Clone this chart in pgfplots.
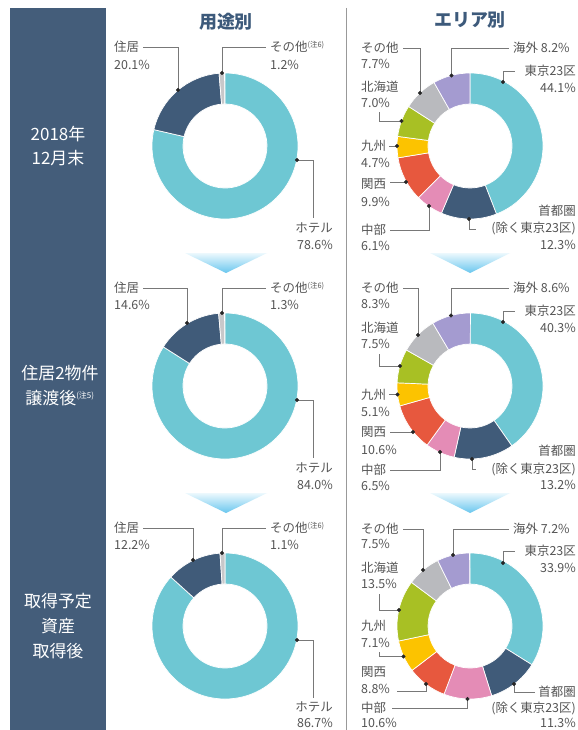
\documentclass[border=0pt]{standalone}
\usepackage{pgfplots}
\usepackage{pgfplotstable}
\pgfplotsset{compat=1.18}
\usepackage{fontspec}
\setmainfont{Noto Sans CJK JP}

\definecolor{cTeal}{RGB}{110,199,211}
\definecolor{cNavy}{RGB}{64,91,121}
\definecolor{cLGray}{RGB}{200,200,202}
\definecolor{cPink}{RGB}{228,140,182}
\definecolor{cRed}{RGB}{231,88,62}
\definecolor{cYellow}{RGB}{252,195,0}
\definecolor{cGreen}{RGB}{168,192,36}
\definecolor{cGray}{RGB}{185,186,190}
\definecolor{cLav}{RGB}{164,155,208}
\definecolor{cPanel}{RGB}{68,93,122}
\definecolor{cHead}{RGB}{61,90,123}
\definecolor{cText}{RGB}{85,85,85}
\definecolor{cLine}{RGB}{120,120,120}
\definecolor{cChevTop}{RGB}{236,248,253}
\definecolor{cChevBot}{RGB}{105,198,238}

\tikzset{
  lbl/.style={font=\fontsize{12.5}{15}\selectfont, text=cText, inner sep=0pt},
  rowlbl/.style={font=\fontsize{17}{25}\selectfont, text=white, align=center, inner sep=0pt},
  head/.style={font=\fontsize{18}{20}\selectfont\bfseries, text=cHead, inner sep=0pt},
}
\newcommand\noteS[1]{\textsuperscript{\fontsize{7.5}{7.5}\selectfont #1}}

% use (by purpose)
\pgfplotstableread{
v c
78.6 cTeal
20.1 cNavy
1.2 cLGray
}\tUseA
\pgfplotstableread{
v c
84.0 cTeal
14.6 cNavy
1.3 cLGray
}\tUseB
\pgfplotstableread{
v c
86.7 cTeal
12.2 cNavy
1.1 cLGray
}\tUseC
% area
\pgfplotstableread{
v c
44.1 cTeal
12.3 cNavy
6.1 cPink
9.9 cRed
4.7 cYellow
7.0 cGreen
7.7 cGray
8.2 cLav
}\tAreaA
\pgfplotstableread{
v c
40.3 cTeal
13.2 cNavy
6.5 cPink
10.6 cRed
5.1 cYellow
7.5 cGreen
8.3 cGray
8.6 cLav
}\tAreaB
\pgfplotstableread{
v c
33.9 cTeal
11.3 cNavy
10.6 cPink
8.8 cRed
7.1 cYellow
13.5 cGreen
7.5 cGray
7.2 cLav
}\tAreaC

\def\Rout{73}
\def\Rin{42}
\newcommand\BuildDonut[4]{%
  \gdef\DonutCmds{}%
  \gdef\DonutAng{90}%
  \pgfplotstablegetrowsof{#2}%
  \pgfmathtruncatemacro\DonutLast{\pgfplotsretval-1}%
  \foreach \i in {0,...,\DonutLast}{%
    \pgfplotstablegetelem{\i}{v}\of{#2}\let\DVal\pgfplotsretval
    \pgfplotstablegetelem{\i}{c}\of{#2}\let\DCol\pgfplotsretval
    \pgfmathsetmacro\DA{\DonutAng}%
    \pgfmathsetmacro\DB{\DonutAng-3.6*\DVal}%
    \pgfmathsetmacro\XA{#3+\Rout*cos(\DA)}%
    \pgfmathsetmacro\YA{#4-\Rout*sin(\DA)}%
    \pgfmathsetmacro\XB{#3+\Rin*cos(\DB)}%
    \pgfmathsetmacro\YB{#4-\Rin*sin(\DB)}%
    \xdef\DonutCmds{\unexpanded\expandafter{\DonutCmds}%
      \noexpand\filldraw[fill=\DCol, draw=white, line width=0.7pt]
      (axis cs:\XA,\YA) arc[start angle=\DA, end angle=\DB, radius=\Rout bp]
      -- (axis cs:\XB,\YB) arc[start angle=\DB, end angle=\DA, radius=\Rin bp] -- cycle;}%
    \xdef\DonutAng{\DB}%
  }%
  \global\expandafter\let\csname #1\endcsname\DonutCmds
}

\begin{document}
\begin{tikzpicture}
\BuildDonut{DUA}{\tUseA}{225}{146}
\BuildDonut{DUB}{\tUseB}{225}{386}
\BuildDonut{DUC}{\tUseC}{225}{626}
\BuildDonut{DAA}{\tAreaA}{470}{146}
\BuildDonut{DAB}{\tAreaB}{470}{386}
\BuildDonut{DAC}{\tAreaC}{470}{626}
\begin{axis}[
  scale only axis, width=577bp, height=730bp,
  xmin=0, xmax=577, ymin=0, ymax=730, y dir=reverse,
  hide axis, clip=false,
  leader/.style={draw=cLine, line width=0.6pt, mark=*, mark indices={1},
    mark size=1.7pt, mark options={fill=black!85, draw=black!85, solid}},
]
\fill[white] (axis cs:0,0) rectangle (axis cs:577,730);
% left panel
\fill[cPanel] (axis cs:10,8) rectangle (axis cs:106,735);
\node[rowlbl] at (axis cs:58,146) {2018年\\12月末};
\node[rowlbl] at (axis cs:60,386) {住居2物件\\譲渡後\textsuperscript{\fontsize{8}{8}\selectfont(注5)}};
\node[rowlbl] at (axis cs:58,626) {取得予定\\資産\\取得後};
% divider
\draw[draw=black!40, line width=0.8pt] (axis cs:346,8) -- (axis cs:346,735);
% headers
\node[head] at (axis cs:226,22) {用途別};
\node[head] at (axis cs:470,20) {エリア別};
% chevrons
\shade[top color=cChevTop, bottom color=cChevBot] (axis cs:185,253) -- (axis cs:267,253) -- (axis cs:226,273) -- cycle;
\shade[top color=cChevTop, bottom color=cChevBot] (axis cs:430,253) -- (axis cs:510,253) -- (axis cs:470,273) -- cycle;
\shade[top color=cChevTop, bottom color=cChevBot] (axis cs:185,493) -- (axis cs:267,493) -- (axis cs:226,513) -- cycle;
\shade[top color=cChevTop, bottom color=cChevBot] (axis cs:430,493) -- (axis cs:510,493) -- (axis cs:470,513) -- cycle;
% donuts
\DUA \DUB \DUC \DAA \DAB \DAC
% ---- left row 1
\addplot[leader] coordinates {(178,90) (178,47) (143,47)};
\node[lbl,anchor=west] at (axis cs:114,47) {住居};
\node[lbl,anchor=west] at (axis cs:114,65) {20.1\%};
\addplot[leader] coordinates {(222,73) (222,47) (266,47)};
\node[lbl,anchor=west] at (axis cs:270,47) {その他\noteS{(注6)}};
\node[lbl,anchor=west] at (axis cs:270,65) {1.2\%};
\addplot[leader] coordinates {(297,160) (313,160) (313,218)};
\node[lbl,anchor=east] at (axis cs:333,228) {ホテル};
\node[lbl,anchor=east] at (axis cs:333,245) {78.6\%};
% ---- left row 2
\addplot[leader] coordinates {(187,323) (187,288) (143,288)};
\node[lbl,anchor=west] at (axis cs:114,288) {住居};
\node[lbl,anchor=west] at (axis cs:114,305) {14.6\%};
\addplot[leader] coordinates {(222,313) (222,288) (266,288)};
\node[lbl,anchor=west] at (axis cs:270,288) {その他\noteS{(注6)}};
\node[lbl,anchor=west] at (axis cs:270,305) {1.3\%};
\addplot[leader] coordinates {(297,400) (313,400) (313,458)};
\node[lbl,anchor=east] at (axis cs:333,468) {ホテル};
\node[lbl,anchor=east] at (axis cs:333,485) {84.0\%};
% ---- left row 3
\addplot[leader] coordinates {(193,560) (193,528) (143,528)};
\node[lbl,anchor=west] at (axis cs:114,528) {住居};
\node[lbl,anchor=west] at (axis cs:114,545) {12.2\%};
\addplot[leader] coordinates {(222,553) (222,528) (266,528)};
\node[lbl,anchor=west] at (axis cs:270,528) {その他\noteS{(注6)}};
\node[lbl,anchor=west] at (axis cs:270,545) {1.1\%};
\addplot[leader] coordinates {(297,640) (313,640) (313,698)};
\node[lbl,anchor=east] at (axis cs:333,707) {ホテル};
\node[lbl,anchor=east] at (axis cs:333,723) {86.7\%};
% ---- right row 1
\addplot[leader] coordinates {(420,93) (420,48) (403,48)};
\node[lbl,anchor=west] at (axis cs:361,48) {その他};
\node[lbl,anchor=west] at (axis cs:361,64) {7.7\%};
\addplot[leader] coordinates {(401.5,121) (379,121) (379,112)};
\node[lbl,anchor=west] at (axis cs:361,87) {北海道};
\node[lbl,anchor=west] at (axis cs:361,103) {7.0\%};
\addplot[leader] coordinates {(397,146) (389,146)};
\node[lbl,anchor=west] at (axis cs:361,146) {九州};
\node[lbl,anchor=west] at (axis cs:361,163) {4.7\%};
\addplot[leader] coordinates {(406,182) (390,182)};
\node[lbl,anchor=west] at (axis cs:361,184) {関西};
\node[lbl,anchor=west] at (axis cs:361,202) {9.9\%};
\addplot[leader] coordinates {(429,206) (429,230) (390,230)};
\node[lbl,anchor=west] at (axis cs:361,230) {中部};
\node[lbl,anchor=west] at (axis cs:361,246) {6.1\%};
\addplot[leader] coordinates {(469,219) (469,229) (476,229)};
\node[lbl,anchor=east] at (axis cs:576,211) {首都圏};
\node[lbl,anchor=east] at (axis cs:576,228) {(除く東京23区)};
\node[lbl,anchor=east] at (axis cs:576,245) {12.3\%};
\addplot[leader] coordinates {(451.5,75.5) (451.5,48) (509,48)};
\node[lbl,anchor=west] at (axis cs:513,48) {海外 8.2\%};
\addplot[leader] coordinates {(503,82) (503,71) (515,71)};
\node[lbl,anchor=east] at (axis cs:576,71) {東京23区};
\node[lbl,anchor=east] at (axis cs:576,88) {44.1\%};
% ---- right row 2
\addplot[leader] coordinates {(418,335) (418,288) (403,288)};
\node[lbl,anchor=west] at (axis cs:361,288) {その他};
\node[lbl,anchor=west] at (axis cs:361,304) {8.3\%};
\addplot[leader] coordinates {(400,366) (379,366) (379,354)};
\node[lbl,anchor=west] at (axis cs:361,328) {北海道};
\node[lbl,anchor=west] at (axis cs:361,344) {7.5\%};
\addplot[leader] coordinates {(397.5,394.5) (389,394.5)};
\node[lbl,anchor=west] at (axis cs:361,395) {九州};
\node[lbl,anchor=west] at (axis cs:361,412) {5.1\%};
\addplot[leader] coordinates {(413,432) (390,432)};
\node[lbl,anchor=west] at (axis cs:361,432) {関西};
\node[lbl,anchor=west] at (axis cs:361,450) {10.6\%};
\addplot[leader] coordinates {(440,452) (440,470) (390,470)};
\node[lbl,anchor=west] at (axis cs:361,470) {中部};
\node[lbl,anchor=west] at (axis cs:361,486) {6.5\%};
\addplot[leader] coordinates {(472,459) (472,469) (476,469)};
\node[lbl,anchor=east] at (axis cs:576,451) {首都圏};
\node[lbl,anchor=east] at (axis cs:576,469) {(除く東京23区)};
\node[lbl,anchor=east] at (axis cs:576,485) {13.2\%};
\addplot[leader] coordinates {(451,315.5) (451,288) (509,288)};
\node[lbl,anchor=west] at (axis cs:513,288) {海外 8.6\%};
\addplot[leader] coordinates {(503,322) (503,311) (515,311)};
\node[lbl,anchor=east] at (axis cs:576,311) {東京23区};
\node[lbl,anchor=east] at (axis cs:576,328) {40.3\%};
% ---- right row 3
\addplot[leader] coordinates {(423,570) (423,529) (403,529)};
\node[lbl,anchor=west] at (axis cs:361,529) {その他};
\node[lbl,anchor=west] at (axis cs:361,544) {7.5\%};
\addplot[leader] coordinates {(399,610) (379,610) (379,594)};
\node[lbl,anchor=west] at (axis cs:361,568) {北海道};
\node[lbl,anchor=west] at (axis cs:361,584) {13.5\%};
\addplot[leader] coordinates {(403.5,656.5) (379,656.5) (379,652)};
\node[lbl,anchor=west] at (axis cs:361,626) {九州};
\node[lbl,anchor=west] at (axis cs:361,643) {7.1\%};
\addplot[leader] coordinates {(426,684) (426,691) (397,691)};
\node[lbl,anchor=west] at (axis cs:361,672) {関西};
\node[lbl,anchor=west] at (axis cs:361,689) {8.8\%};
\addplot[leader] coordinates {(467.5,699) (467.5,708) (392,708)};
\node[lbl,anchor=west] at (axis cs:361,708) {中部};
\node[lbl,anchor=west] at (axis cs:361,723) {10.6\%};
\addplot[leader] coordinates {(514,684) (514,692) (535,692)};
\node[lbl,anchor=east] at (axis cs:576,692) {首都圏};
\node[lbl,anchor=east] at (axis cs:576,708) {(除く東京23区)};
\node[lbl,anchor=east] at (axis cs:576,723) {11.3\%};
\addplot[leader] coordinates {(453,555) (453,529) (509,529)};
\node[lbl,anchor=west] at (axis cs:513,529) {海外 7.2\%};
\addplot[leader] coordinates {(503,563) (503,551) (515,551)};
\node[lbl,anchor=east] at (axis cs:576,551) {東京23区};
\node[lbl,anchor=east] at (axis cs:576,568) {33.9\%};
\end{axis}
\pgfresetboundingbox
\useasboundingbox (current axis.south west) rectangle (current axis.north east);
\end{tikzpicture}
\end{document}
